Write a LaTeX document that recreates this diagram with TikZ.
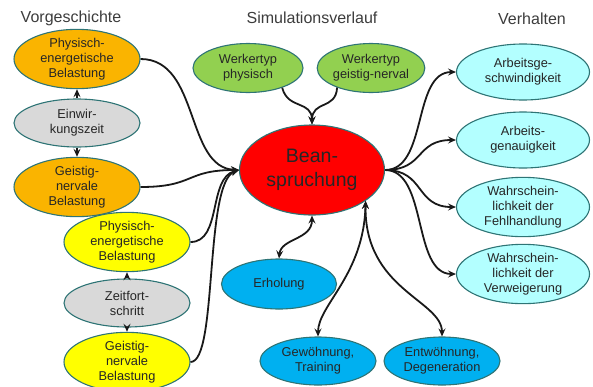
\documentclass[tikz,border=0pt]{standalone}
\usepackage{fontspec}
\setmainfont{Liberation Sans}
\usetikzlibrary{shapes.geometric,arrows.meta}
\definecolor{bord}{HTML}{2E7475}
\definecolor{orng}{HTML}{FAB400}
\definecolor{yell}{HTML}{FFFF00}
\definecolor{gry}{HTML}{D9D9D9}
\definecolor{grn}{HTML}{92D050}
\definecolor{rd}{HTML}{FF0000}
\definecolor{blu}{HTML}{00B0F0}
\definecolor{cyn}{HTML}{B3FFFF}
\definecolor{txt}{HTML}{262626}
\tikzset{
  ell/.style={ellipse, draw=bord, line width=1.1pt, inner sep=0pt, align=center,
    text=txt, font=\fontsize{12.8}{15}\selectfont},
  sml/.style={ell, minimum width=126pt, minimum height=48pt},
  title/.style={text=txt!90, font=\fontsize{16}{18}\selectfont},
  con/.style={line width=1.8pt, draw=black!90, -{Stealth[length=8pt,width=7pt,inset=3pt]}},
  dcon/.style={con, {Stealth[length=8pt,width=7pt,inset=3pt]}-{Stealth[length=8pt,width=7pt,inset=3pt]}},
}
\begin{document}
\begin{tikzpicture}[x=1pt,y=-1pt]
\useasboundingbox (0,0) rectangle (593,386);
% titles
\node[title] (t1) at (71,18) {Vorgeschichte};
\node[title] (t2) at (312,18) {Simulationsverlauf};
\node[title] (t3) at (532,19) {Verhalten};
% left column
\node[sml, fill=orng] (peb1) at (77,59) {Physisch-\\energetische\\Belastung};
\node[sml, fill=gry] (ez) at (77,123) {Einwir-\\kungszeit};
\node[sml, fill=orng] (gn1) at (77,187) {Geistig-\\nervale\\Belastung};
\node[sml, fill=yell] (peb2) at (127,242) {Physisch-\\energetische\\Belastung};
\node[sml, fill=gry] (zf) at (127,303) {Zeitfort-\\schritt};
\node[sml, fill=yell] (gn2) at (127,362) {Geistig-\\nervale\\Belastung};
% middle
\node[ell, fill=grn, minimum width=110pt, minimum height=49pt] (w1) at (248,68) {Werkertyp\\physisch};
\node[ell, fill=grn, minimum width=106pt, minimum height=49pt] (w2) at (371,68) {Werkertyp\\geistig-nerval};
\node[ell, fill=rd, minimum width=145pt, minimum height=90pt, font=\fontsize{19.5}{24}\selectfont] (bean) at (312,170) {Bean-\\spruchung};
\node[ell, fill=blu, minimum width=115pt, minimum height=50pt] (erh) at (279,284) {Erholung};
\node[ell, fill=blu, minimum width=116pt, minimum height=48pt] (gew) at (318,361) {Gewöhnung,\\Training};
\node[ell, fill=blu, minimum width=116pt, minimum height=48pt] (ent) at (442,361) {Entwöhnung,\\Degeneration};
% right column
\node[ell, fill=cyn, minimum width=133pt, minimum height=56pt] (v1) at (523,72) {Arbeitsge-\\schwindigkeit};
\node[ell, fill=cyn, minimum width=133pt, minimum height=56pt] (v2) at (523,140) {Arbeits-\\genauigkeit};
\node[ell, fill=cyn, minimum width=133pt, minimum height=56pt] (v3) at (523,207) {Wahrschein-\\lichkeit der\\Fehlhandlung};
\node[ell, fill=cyn, minimum width=133pt, minimum height=56pt] (v4) at (523,274) {Wahrschein-\\lichkeit der\\Verweigerung};
% connectors left
\draw[con] (ez.north) -- (peb1.south);
\draw[con] (ez.south) -- (gn1.north);
\draw[con] (zf.north) -- (peb2.south);
\draw[con] (zf.south) -- (gn2.north);
\draw[con] (peb1.east) .. controls (200,59) and (185,168) .. (bean.west);
\draw[con] (gn1.east) .. controls (195,187) and (185,170) .. (bean.west);
\draw[con] (peb2.east) .. controls (222,242) and (208,178) .. (bean.west);
\draw[con] (gn2.east) .. controls (218,362) and (204,182) .. (bean.west);
% top
\draw[con] (w1.-30) .. controls (288,110) and (312,100) .. (bean.north);
\draw[con] (w2.210) .. controls (336,110) and (312,100) .. (bean.north);
% bottom
\draw[dcon] (erh.north) .. controls (281,238) and (312,240) .. (bean.south);
\draw[dcon] (gew.north) .. controls (318,305) and (364,275) .. (bean.-30);
\draw[dcon] (ent.north) .. controls (442,300) and (364,290) .. (bean.-30);
% right
\draw[con] (bean.east) .. controls (428,170) and (412,72) .. (v1.west);
\draw[con] (bean.east) .. controls (425,170) and (415,140) .. (v2.west);
\draw[con] (bean.east) .. controls (425,170) and (415,207) .. (v3.west);
\draw[con] (bean.east) .. controls (428,170) and (412,274) .. (v4.west);
\end{tikzpicture}
\end{document}
